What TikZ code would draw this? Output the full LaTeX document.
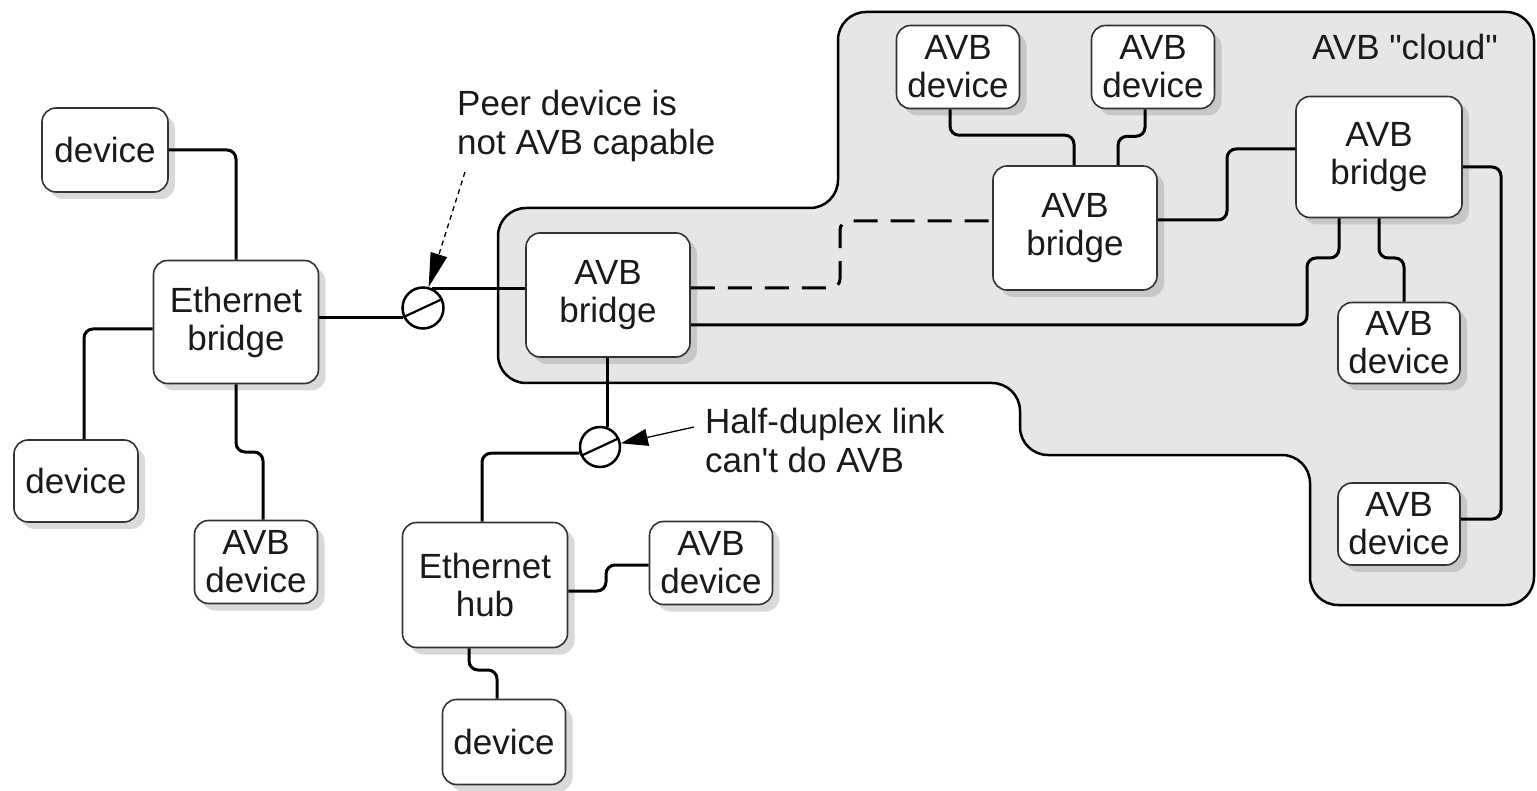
\documentclass[tikz,border=0pt]{standalone}
\usepackage{fontspec}
\setmainfont{Liberation Sans}
\usetikzlibrary{calc,shadows,arrows.meta}
\definecolor{cloudgray}{HTML}{E6E6E6}
\definecolor{inkgray}{HTML}{1A1A1A}
\tikzset{
 box/.style={draw=black!80, line width=1.6pt, fill=white, rounded corners=14pt, align=center,
   font=\fontsize{35}{38}\selectfont, text=inkgray, inner sep=0pt,
   drop shadow={opacity=0.3, shadow xshift=7pt, shadow yshift=-7pt}},
 devbox/.style={box, minimum width=123pt, minimum height=83pt},
 bridgebox/.style={box, minimum width=165pt, minimum height=123pt},
 conn/.style={line width=3pt, rounded corners=9pt},
 brk/.style={circle, draw, line width=2.5pt, minimum size=41pt, inner sep=0pt},
 note/.style={font=\fontsize{35}{39}\selectfont, align=left, text=inkgray, inner sep=0pt},
 pointer/.style={line width=1.3pt, -{Triangle[length=27pt,width=17pt]}},
}
\begin{document}
\begin{tikzpicture}[x=1pt,y=-1pt]
\useasboundingbox (0,0) rectangle (1537,791);
% AVB cloud
\draw[fill=cloudgray, line width=2.5pt, rounded corners=28pt]
  (838,12) -- (1534,12) -- (1534,605) -- (1310,605) -- (1310,455) -- (1020,455)
  -- (1020,383) -- (498,383) -- (498,208) -- (838,208) -- cycle;
\node[note, anchor=center] (cloudlbl) at (1405,47) {AVB \textquotedbl cloud\textquotedbl};

% nodes
\node[devbox, minimum width=126pt, minimum height=84pt] (d1) at (105,150) {device};
\node[bridgebox] (eb) at (236,322) {Ethernet\\bridge};
\node[devbox, minimum width=124pt, minimum height=82pt] (d2) at (76,481) {device};
\node[devbox] (ad1) at (256,562) {AVB\\device};
\node[brk] (c1) at (423,308) {};
\draw[line width=2.2pt] (c1.205) -- (c1.25);
\node[bridgebox, minimum width=164pt, minimum height=124pt] (ab1) at (608,295) {AVB\\bridge};
\node[brk, minimum size=40pt] (c2) at (600,447) {};
\draw[line width=2.2pt] (c2.205) -- (c2.25);
\node[bridgebox, minimum height=125pt] (hub) at (485,585) {Ethernet\\hub};
\node[devbox] (ad2) at (711,563) {AVB\\device};
\node[devbox, minimum height=85pt] (d3) at (504,742) {device};
\node[devbox] (ad3) at (958,67) {AVB\\device};
\node[devbox] (ad4) at (1153,67) {AVB\\device};
\node[bridgebox, minimum width=164pt, minimum height=124pt] (ab2) at (1075,228) {AVB\\bridge};
\node[bridgebox, minimum width=166pt, minimum height=121pt] (ab3) at (1379,157) {AVB\\bridge};
\node[devbox, minimum width=122pt, minimum height=81pt] (ad5) at (1399,343) {AVB\\device};
\node[devbox, minimum width=122pt, minimum height=82pt] (ad6) at (1399,524) {AVB\\device};

% annotations
\node[note, anchor=north west] (peer) at (457,90) {Peer device is\\not AVB capable};
\node[note, anchor=north west] (half) at (705,408) {Half-duplex link\\can\textquotesingle t do AVB};
\coordinate (peertail) at (465,172);
\coordinate (halftail) at (694,427);

% connectors
\draw[conn] (d1.east) -| (eb.north);
\draw[conn] ($(eb.west)+(0,7)$) -| ($(d2.north)+(8,0)$);
\draw[conn] (eb.south) -- (236,452) -| ($(ad1.north)+(7,0)$);
\draw[conn] (c1.205 -| eb.east) -- (c1.205);
\draw[conn] (c1.65) -- (c1.65 -| ab1.west);
\draw[conn] (c2.70 |- ab1.south) -- (c2.70);
\draw[conn] (c2.197) -| ($(hub.north)+(-3,0)$);
\draw[conn] ($(hub.east)+(0,6)$) -| (606,565) -- ($(ad2.west)+(0,2)$);
\draw[conn] ($(hub.south)+(-16,0)$) -- (469,670) -| ($(d3.north)+(-7,0)$);
\draw[conn, dash pattern=on 24pt off 13pt] ($(ab1.east)+(0,-7)$) -| (840,221) -- ($(ab2.west)+(0,-7)$);
\draw[conn] ($(ab1.east)+(0,30)$) -| (1307,258) -| ($(ab3.south)+(-40,0)$);
\draw[conn] ($(ad3.south)+(-8,0)$) |- ($(ab2.north)+(-1,-30)$) -- ($(ab2.north)+(-1,0)$);
\draw[conn] ($(ad4.south)+(-8,0)$) -- ++(0,27) -| ($(ab2.north)+(43,0)$);
\draw[conn] ($(ab2.east)+(0,-8)$) -| (1227,149) -- ($(ab3.west)+(0,-8)$);
\draw[conn] (ab3.south) -- (1379,258) -| ($(ad5.north)+(5,0)$);
\draw[conn] ($(ab3.east)+(0,10)$) -| (1501,519) -- ($(ad6.east)+(0,-5)$);

% pointers
\draw[pointer, -{Triangle[length=34pt,width=17pt]}, dash pattern=on 5pt off 4pt] (peertail) -- (c1.75);
\draw[pointer] (halftail) -- (c2.10);
\end{tikzpicture}
\end{document}
